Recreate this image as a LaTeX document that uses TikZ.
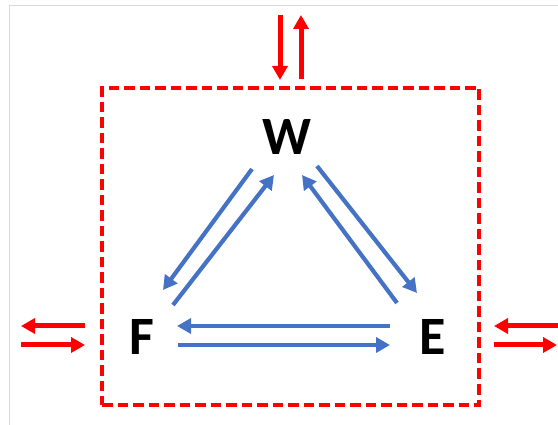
\documentclass[tikz,border=0pt]{standalone}
\usepackage{fontspec}
\setmainfont{Carlito}
\usetikzlibrary{arrows.meta}
\definecolor{offblue}{HTML}{4472C4}
\definecolor{pred}{HTML}{FF0000}
\begin{document}
\begin{tikzpicture}[x=1pt,y=-1pt,
  lbl/.style={inner sep=0pt,font=\fontsize{54}{54}\selectfont\bfseries},
  bluearrow/.style={draw=offblue,line width=4.2pt,-{Triangle[length=14pt,width=15pt]}},
  redarrow/.style={draw=pred,line width=5pt,-{Triangle[length=14pt,width=15pt]}},
  sysbox/.style={draw=pred,line width=3.3pt,dash pattern=on 10.5pt off 5pt}]
\useasboundingbox (0,0) rectangle (558,425);
\draw[black!15,line width=1pt] (9.5,5.5) -- (570,5.5);
\draw[black!15,line width=1pt] (9.5,5.5) -- (9.5,430);
% system boundary
\node[sysbox,minimum width=377pt,minimum height=317pt,inner sep=0pt] (box) at (290.5,246.5) {};
% species
\node[lbl] (W) at (287,137) {W};
\node[lbl] (F) at (142,337) {F};
\node[lbl] (E) at (433,337) {E};
% endpoints of internal arrows
\coordinate (wf1) at (252,169); \coordinate (wf2) at (163,290);
\coordinate (fw1) at (173,305); \coordinate (fw2) at (274,175);
\coordinate (we1) at (317,166); \coordinate (we2) at (417,293);
\coordinate (ew1) at (397,303); \coordinate (ew2) at (302,175);
\coordinate (ef1) at (390,326); \coordinate (ef2) at (177,326);
\coordinate (fe1) at (178,345); \coordinate (fe2) at (390,345);
\draw[bluearrow] (wf1) -- (wf2);
\draw[bluearrow] (fw1) -- (fw2);
\draw[bluearrow] (we1) -- (we2);
\draw[bluearrow] (ew1) -- (ew2);
\draw[bluearrow] (ef1) -- (ef2);
\draw[bluearrow] (fe1) -- (fe2);
% exchange with surroundings
\coordinate (t1) at (280,15); \coordinate (t2) at (280,80);
\coordinate (t3) at (301,79); \coordinate (t4) at (301,15);
\coordinate (l1) at (85,326); \coordinate (l2) at (21,326);
\coordinate (l3) at (21,345); \coordinate (l4) at (85,345);
\coordinate (r1) at (562,326); \coordinate (r2) at (494,326);
\coordinate (r3) at (494,345); \coordinate (r4) at (557,345);
\draw[redarrow] (t1) -- (t2);
\draw[redarrow] (t3) -- (t4);
\draw[redarrow] (l1) -- (l2);
\draw[redarrow] (l3) -- (l4);
\draw[redarrow] (r1) -- (r2);
\draw[redarrow] (r3) -- (r4);
\end{tikzpicture}
\end{document}
